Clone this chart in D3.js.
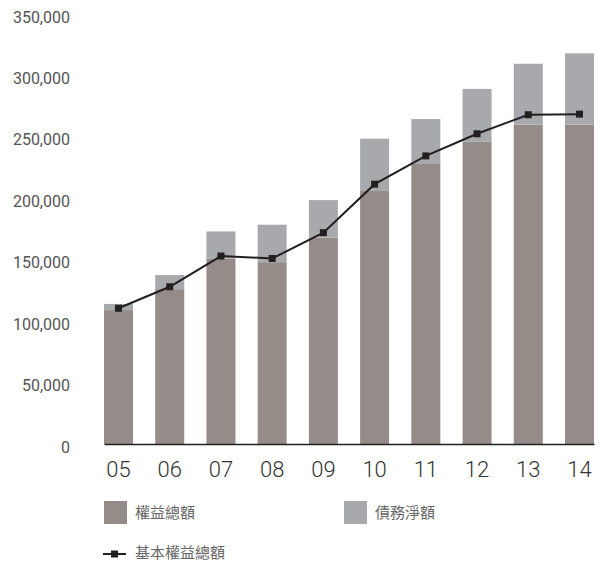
<!DOCTYPE html>
<html>
<head>
<meta charset="utf-8">
<script src="https://cdn.jsdelivr.net/npm/d3@7"></script>
<style>
  body { margin: 0; background: #fff; }
  svg { display: block; }
</style>
</head>
<body>
<svg id="chart" width="608" height="566"></svg>
<script>
// data
var years = ["05", "06", "07", "08", "09", "10", "11", "12", "13", "14"];
var equity = [109000, 126000, 151000, 148000, 168000, 206500, 228500, 246000, 260000, 260000];
var netDebt = [5000, 11500, 22000, 30500, 30500, 42000, 36000, 43000, 49500, 58000];
var basicEquity = [110500, 128000, 153000, 151000, 172000, 211500, 234500, 252500, 268000, 268500];
var yTicks = [0, 50000, 100000, 150000, 200000, 250000, 300000, 350000];

var COL_EQ = "#958b89";
var COL_DEBT = "#a8a9ac";
var COL_LINE = "#231f20";

var svg = d3.select("#chart");

var x = d3.scaleBand()
        .domain(years)
        .range([104, 594])
        .paddingInner(0.434)
        .paddingOuter(0);

var y = d3.scaleLinear()
        .domain([0, 350000])
        .range([444, 14]);

var rows = years.map((d, i) => {
    return {year: d, eq: equity[i], debt: netDebt[i], basic: basicEquity[i]};
});

// y tick labels (no axis line)
var yAxis = d3.axisLeft(y)
        .tickValues(yTicks)
        .tickSize(0)
        .tickPadding(0)
        .tickFormat(d3.format(","));
var gy = svg.append("g")
        .attr("transform", "translate(70,3)")
        .call(yAxis);
gy.select(".domain").remove();
gy.selectAll("text")
        .attr("fill", "#555")
        .style("font-family", "Roboto, 'DejaVu Sans', sans-serif")
        .style("font-size", "16px");

// stacked bars
var g = svg.append("g");
g.selectAll("rect.eq")
        .data(rows)
        .enter()
        .append("rect")
        .attr("class", "eq")
        .attr("x", (d) => x(d.year))
        .attr("width", x.bandwidth())
        .attr("y", (d) => y(d.eq))
        .attr("height", (d) => y(0) - y(d.eq))
        .attr("fill", COL_EQ);

g.selectAll("rect.debt")
        .data(rows)
        .enter()
        .append("rect")
        .attr("class", "debt")
        .attr("x", (d) => x(d.year))
        .attr("width", x.bandwidth())
        .attr("y", (d) => y(d.eq + d.debt))
        .attr("height", (d) => y(d.eq) - y(d.eq + d.debt))
        .attr("fill", COL_DEBT);

// x axis
var xAxis = d3.axisBottom(x).tickSize(0).tickPadding(17);
var gx = svg.append("g")
        .attr("transform", "translate(0," + y(0) + ")")
        .call(xAxis);
gx.select(".domain")
        .attr("stroke", COL_LINE)
        .attr("stroke-width", 1.5);
gx.selectAll("text")
        .attr("fill", "#333")
        .style("font-family", "Roboto, 'DejaVu Sans', sans-serif")
        .style("font-weight", "300")
        .style("font-size", "22px");

// basic equity line
var line = d3.line()
        .x((d) => x(d.year) + x.bandwidth() / 2)
        .y((d) => y(d.basic));
svg.append("path")
        .datum(rows)
        .attr("d", line)
        .attr("fill", "none")
        .attr("stroke", COL_LINE)
        .attr("stroke-width", 2);
var M = 7;
svg.selectAll("rect.mk")
        .data(rows)
        .enter()
        .append("rect")
        .attr("class", "mk")
        .attr("x", (d) => x(d.year) + x.bandwidth() / 2 - M / 2)
        .attr("y", (d) => y(d.basic) - M / 2)
        .attr("width", M)
        .attr("height", M)
        .attr("fill", COL_LINE);

// legend
var legendFont = "'Noto Sans CJK TC', 'Noto Sans CJK SC', sans-serif";
var items = [
    {label: "權益總額", color: COL_EQ, x: 104},
    {label: "債務淨額", color: COL_DEBT, x: 344}
];
var lg = svg.append("g");
items.forEach((it) => {
    lg.append("rect")
            .attr("x", it.x)
            .attr("y", 501)
            .attr("width", 23)
            .attr("height", 23)
            .attr("fill", it.color);
    lg.append("text")
            .attr("x", it.x + 31)
            .attr("y", 512.5)
            .attr("dy", "0.35em")
            .attr("fill", "#666")
            .style("font-family", legendFont)
            .style("font-size", "15px")
            .text(it.label);
});
lg.append("line")
        .attr("x1", 103).attr("x2", 126)
        .attr("y1", 554).attr("y2", 554)
        .attr("stroke", COL_LINE)
        .attr("stroke-width", 2);
lg.append("rect")
        .attr("x", 114.5 - M / 2)
        .attr("y", 554 - M / 2)
        .attr("width", M)
        .attr("height", M)
        .attr("fill", COL_LINE);
lg.append("text")
        .attr("x", 135)
        .attr("y", 553)
        .attr("dy", "0.35em")
        .attr("fill", "#666")
        .style("font-family", legendFont)
        .style("font-size", "15px")
        .text("基本權益總額");
</script>
</body>
</html>
